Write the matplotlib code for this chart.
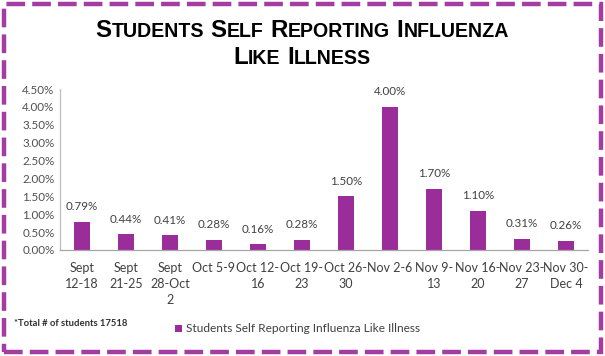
import matplotlib
matplotlib.use("Agg")
import matplotlib.pyplot as plt
from matplotlib.patches import Rectangle

categories = ["Sept\n12-18", "Sept\n21-25", "Sept\n28-Oct\n2", "Oct 5-9", "Oct 12-\n16",
              "Oct 19-\n23", "Oct 26-\n30", "Nov 2-6", "Nov 9-\n13", "Nov 16-\n20",
              "Nov 23-\n27", "Nov 30-\nDec 4"]
values = [0.79, 0.44, 0.41, 0.28, 0.16, 0.28, 1.50, 4.00, 1.70, 1.10, 0.31, 0.26]
yticks = [0.0, 0.5, 1.0, 1.5, 2.0, 2.5, 3.0, 3.5, 4.0, 4.5]
series_name = "Students Self Reporting Influenza Like Illness"
footnote = "*Total # of students 17518"
title_lines = ["STUDENTS SELF REPORTING INFLUENZA", "LIKE ILLNESS"]

BAR = "#9B2D9B"
BORDER = "#A33DA2"
FONT = "Lato"

W, H = 605, 356
fig = plt.figure(figsize=(W / 100, H / 100), dpi=100)
fig.patch.set_facecolor("white")

# dashed border
border = Rectangle((4 / W, 4 / H), 597 / W, 348 / H, transform=fig.transFigure,
                   fill=False, edgecolor=BORDER, linewidth=3.2,
                   linestyle=(0, (4.2, 1.6)))
fig.add_artist(border)

ax = fig.add_axes([60 / W, (H - 250) / H, 528 / W, (250 - 89) / H])
x = list(range(len(categories)))
bars = ax.bar(x, values, width=0.38, color=BAR)
ax.set_xlim(-0.5, len(categories) - 0.5)
ax.set_ylim(0, 4.5)
ax.set_yticks(yticks)
ax.set_yticklabels([f"{v:.2f}%" for v in yticks], fontsize=8.4, color="#505050", family=FONT)
ax.set_xticks(x)
ax.set_xticklabels(categories, fontsize=9, color="#404040", family=FONT, linespacing=1.35,
                   va="top")
ax.tick_params(axis="both", length=0, pad=3)
ax.tick_params(axis="x", pad=9)
ax.tick_params(axis="y", pad=4)
for s in ["top", "right"]:
    ax.spines[s].set_visible(False)
ax.spines["left"].set_color("#BFBFBF")
ax.spines["bottom"].set_color("#A6A6A6")
ax.spines["left"].set_linewidth(0.9)
ax.spines["bottom"].set_linewidth(0.9)
for yl in ax.get_yticklabels():
    yl.set_horizontalalignment("right")

for xi, v in zip(x, values):
    ax.annotate(f"{v:.2f}%", (xi, v), xytext=(0, 7), textcoords="offset points",
                ha="center", va="bottom", fontsize=8.4, color="#404040", family=FONT)

# footnote and legend
fig.text(14 / W, 1 - 324 / H, footnote, fontsize=6.8, fontweight="bold",
         color="#303030", family=FONT, va="center", ha="left")
fig.add_artist(Rectangle((175 / W, 1 - 332 / H), 7 / W, 7 / H, transform=fig.transFigure,
                         facecolor=BAR, edgecolor="none"))
fig.text(186 / W, 1 - 328.5 / H, series_name, fontsize=8.6, color="#404040",
         family=FONT, va="center", ha="left")

# small-caps title
renderer = fig.canvas.get_renderer()
BIG, SMALL = 17.4, 14.1
TFONT = "Liberation Sans"


def draw_smallcaps(line, baseline_px, center_px):
    runs = []
    for wi, word in enumerate(line.split(" ")):
        if wi > 0:
            runs.append((" ", None))
        runs.append((word[0], BIG))
        if len(word) > 1:
            runs.append((word[1:], SMALL))
    widths = []
    space_w = BIG * 100 / 72 * 0.278
    for txt, size in runs:
        if size is None:
            widths.append(space_w)
        else:
            t = fig.text(0, 0, txt, fontsize=size, fontweight="bold", family=TFONT)
            widths.append(t.get_window_extent(renderer).width)
            t.remove()
    total = sum(widths)
    xpos = center_px - total / 2
    for (txt, size), w in zip(runs, widths):
        if size is not None:
            fig.text(xpos / W, 1 - baseline_px / H, txt, fontsize=size, fontweight="bold",
                     family=TFONT, va="baseline", ha="left", color="black")
        xpos += w


draw_smallcaps(title_lines[0], 37, 302)
draw_smallcaps(title_lines[1], 64, 302)

fig.savefig("out.png", dpi=100, facecolor="white")
